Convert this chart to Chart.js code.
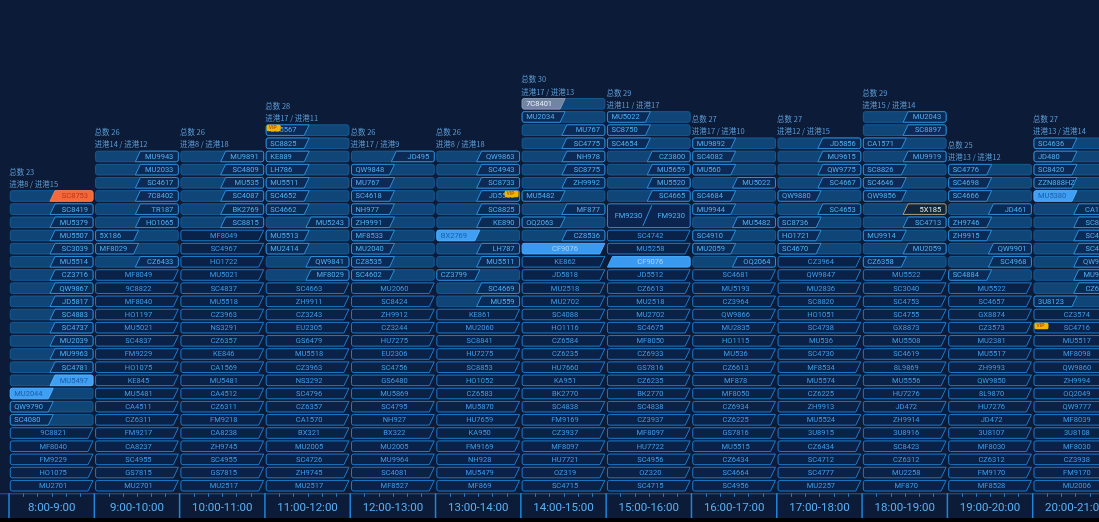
<!DOCTYPE html>
<html><head><meta charset="utf-8">
<script src="https://cdn.jsdelivr.net/npm/chart.js@4.4.1/dist/chart.umd.min.js"></script>
<style>
html,body{margin:0;padding:0;background:#000;overflow:hidden;width:1099px;height:522px;}
#wrap{position:absolute;left:0;top:0;width:1120px;height:518px;background:#0c1b37;}
canvas{display:block;}
</style></head><body>
<div id="wrap"><canvas id="c" width="1120" height="518"></canvas></div>
<script>
// ---- data ----
const categories = ['8:00-9:00','9:00-10:00','10:00-11:00','11:00-12:00','12:00-13:00','13:00-14:00','14:00-15:00','15:00-16:00','16:00-17:00','17:00-18:00','18:00-19:00','19:00-20:00','20:00-21:00'];
const totals = [23,26,26,28,26,26,30,29,27,27,29,25,27];
const inCountA = [8,14,8,17,17,8,17,11,17,12,15,13,13];
const inCountB = [15,12,18,11,9,18,13,17,10,15,14,12,14];
// each slot listed top -> bottom; prefix: R right tag, L left tag, D departure box, F highlighted box, W double box
// modifiers: o orange, b bright, g grey, v VIP, s selected, l left slant
const slot0800 = ['Ro|SC8753','R|SC8419','R|MU5379','R|MU5507','R|SC3039','R|MU5514','R|CZ3716','R|QW9867','R|JD5817','R|SC4883','R|SC4737','R|MU2039','R|MU9963','R|SC4781','Rb|MU5497','Lb|MU2044','L|QW9790','L|SC4080','D|9C8821','D|MF8040','D|FM9229','D|HO1075','D|MU2701'];
const slot0900 = ['R|MU9943','R|MU2033','R|SC4617','R|7C8402','R|TR187','R|HO1065','L|5X186','L|MF8029','R|CZ6433','D|MF8049','D|9C8822','D|MF8040','D|HO1197','D|MU5021','D|SC4837','D|FM9229','D|HO1075','D|KE845','D|MU5481','D|CA4511','D|CZ6311','D|FM9217','D|CA8237','D|SC4955','D|GS7815','D|MU2701'];
const slot1000 = ['R|MU9891','R|SC4809','R|MU535','R|SC4087','R|BK2769','R|SC8815','D|MF8049','D|SC4967','D|HO1722','D|MU5021','D|SC4837','D|MU5518','D|CZ3963','D|NS3291','D|CZ6357','D|KE846','D|CA1569','D|MU5481','D|CA4512','D|CZ6311','D|FM9218','D|CA8238','D|ZH9745','D|SC4955','D|GS7815','D|MU2517'];
const slot1100 = ['Lv|SC5567','L|SC8825','L|KE889','L|LH786','L|MU5511','L|SC4652','L|SC4662','R|MU5243','L|MU5513','L|MU2414','R|QW9841','R|MF8029','D|SC4663','D|ZH9911','D|CZ3243','D|EU2305','D|GS6479','D|MU5518','D|CZ3963','D|NS3292','D|SC4796','D|CZ6357','D|CA1570','D|BX321','D|MU2005','D|SC4726','D|ZH9745','D|MU2517'];
const slot1200 = ['R|JD495','L|QW9848','L|MU767','L|SC4618','L|NH977','L|ZH9991','L|MF8533','L|MU2040','L|CZ8535','L|SC4602','D|MU2060','D|SC8424','D|ZH9912','D|CZ3244','D|HU7275','D|EU2306','D|SC4756','D|GS6480','D|MU5869','D|SC4795','D|NH927','D|BX322','D|MU2005','D|MU9964','D|SC4081','D|MF8527'];
const slot1300 = ['R|QW9863','R|SC4943','R|SC8733','Rv|JD5565','R|SC8825','R|KE890','Lb|BX2769','R|LH787','R|MU5511','L|CZ3799','R|SC4669','R|MU559','D|KE861','D|MU2060','D|SC8841','D|HU7275','D|SC8853','D|HO1052','D|CZ6583','D|MU5870','D|HU7659','D|KA950','D|FM9169','D|NH928','D|MU5479','D|MF869'];
const slot1400 = ['Lg|7C8401','L|MU2034','R|MU767','R|SC4775','R|NH978','R|SC8775','R|ZH9992','L|MU5482','R|MF877','L|OQ2063','R|CZ8536','F|CF9076','D|KE862','D|JD5818','D|MU2518','D|MU2702','D|SC4088','D|HO1116','D|CZ6584','D|CZ6235','D|HU7660','D|KA951','D|BK2770','D|SC4838','D|FM9169','D|CZ3937','D|MF8097','D|HU7721','D|OZ319','D|SC4715'];
const slot1500 = ['L|MU5022','L|SC8750','L|SC4654','R|CZ3800','R|MU5659','R|MU5520','R|SC4665','W|FM9230/FM9230','D|SC4742','D|MU5258','Fl|CF9076','D|JD5512','D|CZ6613','D|MU2518','D|MU2702','D|SC4675','D|MF8050','D|CZ6933','D|GS7816','D|CZ6235','D|BK2770','D|SC4838','D|CZ3937','D|MF8097','D|HU7722','D|SC4956','D|OZ320','D|SC4715'];
const slot1600 = ['L|MU9892','L|SC4082','L|MU560','R|MU5022','L|SC4684','L|MU9944','R|MU5482','L|SC4910','L|MU2059','R|OQ2064','D|SC4681','D|MU5193','D|CZ3964','D|QW9866','D|MU2835','D|HO1115','D|MU536','D|CZ6613','D|MF878','D|MF8050','D|CZ6934','D|CZ6225','D|GS7816','D|MU5515','D|CZ6434','D|SC4664','D|SC4956'];
const slot1700 = ['R|JD5856','R|MU9615','R|QW9775','R|SC4667','L|QW9880','R|SC4653','L|SC8736','L|HO1721','L|SC4670','D|CZ3964','D|QW9847','D|MU2836','D|SC8820','D|HO1051','D|SC4738','D|MU536','D|SC4730','D|MF8534','D|MU5574','D|CZ6225','D|ZH9913','D|MU5524','D|3U8915','D|CZ6434','D|SC4712','D|SC4777','D|MU2257'];
const slot1800 = ['R|MU2043','R|SC8897','L|CA1571','R|MU9919','L|SC8826','L|SC4646','L|QW9856','Rs|5X185','R|SC4713','L|MU9914','R|MU2059','L|CZ6358','D|MU5522','D|SC3040','D|SC4753','D|SC4755','D|GX8873','D|MU5508','D|SC4619','D|8L9869','D|MU5556','D|HU7276','D|JD472','D|ZH9914','D|3U8916','D|SC8423','D|CZ6312','D|MU2258','D|MF870'];
const slot1900 = ['L|SC4776','L|SC4698','L|SC4666','R|JD461','L|ZH9746','L|ZH9915','R|QW9901','R|SC4968','L|SC4884','D|MU5522','D|SC4657','D|GX8874','D|CZ3573','D|MU2381','D|MU5517','D|ZH9993','D|QW9850','D|8L9870','D|HU7276','D|JD472','D|3U8107','D|MF8030','D|CZ6312','D|FM9170','D|MF8528'];
const slot2000 = ['L|SC4636','L|JD480','L|SC8420','L|ZZN888HZ','Lb|MU5380','R|CA1572','R|SC8898','R|SC4714','R|SC4647','R|QW9857','R|MU9920','R|CZ6359','L|3U8123','D|CZ3574','Dv|SC4716','D|MU5517','D|MF8098','D|QW9860','D|ZH9994','D|OQ2049','D|QW9777','D|MF8039','D|3U8108','D|MF8030','D|CZ3938','D|FM9170','D|MU2006'];

const slots = [slot0800,slot0900,slot1000,slot1100,slot1200,slot1300,slot1400,slot1500,slot1600,slot1700,slot1800,slot1900,slot2000];

// ---- build ----
const parsed = slots.map(s => s.map(str => { const p = str.split('|'); return {t:p[0], code:p[1]}; }).reverse());
const maxN = Math.max(...parsed.map(p => p.length));
const datasets = [];
for (let d = 0; d < maxN; d++) {
  datasets.push({
    data: parsed.map(p => p[d] ? (p[d].t === 'W' ? 2 : 1) : null),
    backgroundColor: 'rgba(0,0,0,0)', borderWidth: 0, stack: 's',
    barPercentage: 0.97, categoryPercentage: 1
  });
}

const C = {
  dFill:'#0a2148', dStroke:'#1d7bcc', rowFill:'#0f4677', rowStroke:'#175a94',
  tagFill:'#0b2a55', tagStroke:'#2b8fdb', tagText:'#4fb0f2', dText:'#3d9de8', head:'#5d9cd6'
};
const CODE_FONT = '7.5px Roboto, "Noto Sans", sans-serif';

function rr(ctx,l,t,r,b,rad){
  ctx.beginPath();
  ctx.moveTo(l+rad,t); ctx.lineTo(r-rad,t); ctx.quadraticCurveTo(r,t,r,t+rad);
  ctx.lineTo(r,b-rad); ctx.quadraticCurveTo(r,b,r-rad,b); ctx.lineTo(l+rad,b);
  ctx.quadraticCurveTo(l,b,l,b-rad); ctx.lineTo(l,t+rad); ctx.quadraticCurveTo(l,t,l+rad,t);
  ctx.closePath();
}
function dShape(ctx,l,t,r,b,slantRight){
  const s = 5, rad = 2;
  ctx.beginPath();
  if (slantRight) {
    ctx.moveTo(l+rad,t); ctx.lineTo(r,t); ctx.lineTo(r-s,b); ctx.lineTo(l+rad,b);
    ctx.quadraticCurveTo(l,b,l,b-rad); ctx.lineTo(l,t+rad); ctx.quadraticCurveTo(l,t,l+rad,t);
  } else {
    ctx.moveTo(l+s,t); ctx.lineTo(r-rad,t); ctx.quadraticCurveTo(r,t,r,t+rad);
    ctx.lineTo(r,b-rad); ctx.quadraticCurveTo(r,b,r-rad,b); ctx.lineTo(l,b);
  }
  ctx.closePath();
}
function tagR(ctx,l,t,r,b){
  const rad = 2;
  ctx.beginPath();
  ctx.moveTo(r-38,t); ctx.lineTo(r-rad,t); ctx.quadraticCurveTo(r,t,r,t+rad);
  ctx.lineTo(r,b-rad); ctx.quadraticCurveTo(r,b,r-rad,b); ctx.lineTo(r-43,b);
  ctx.closePath();
}
function tagL(ctx,l,t,r,b){
  const rad = 2;
  ctx.beginPath();
  ctx.moveTo(l+rad,t); ctx.lineTo(l+43,t); ctx.lineTo(l+38,b); ctx.lineTo(l+rad,b);
  ctx.quadraticCurveTo(l,b,l,b-rad); ctx.lineTo(l,t+rad); ctx.quadraticCurveTo(l,t,l+rad,t);
  ctx.closePath();
}
function txt(ctx,s,x,y,align,color){
  ctx.font = CODE_FONT; ctx.textAlign = align; ctx.textBaseline = 'middle';
  ctx.fillStyle = color; ctx.fillText(s,x,y+0.5);
}
function vip(ctx,x,y){
  rr(ctx,x,y,x+14,y+6.5,1.5);
  ctx.fillStyle = '#f2b400'; ctx.fill();
  ctx.font = 'bold 5px Roboto, sans-serif'; ctx.textAlign = 'left'; ctx.textBaseline = 'middle';
  ctx.fillStyle = '#b05a00'; ctx.fillText('VIP', x+2, y+3.4);
}
const TAG = {
  '': ['#0b2a55','#2b8fdb','#4fb0f2'],
  'v': ['#0b2a55','#2b8fdb','#4fb0f2'],
  'o': ['#f4683a','#ff7d4e','#b8391a'],
  'b': ['#3f9ff3','#55b0ff','#1d5ea6'],
  'g': ['#7185a3','#8698b4','#e6edf7'],
  's': ['#13243d','#a99c78','#e8e6df']
};
function drawEntry(ctx,e,l,r,t,b){
  const cy = (t+b)/2;
  const kind = e.t[0], mod = e.t.slice(1);
  ctx.lineWidth = 1;
  if (kind === 'D' || kind === 'F') {
    const bright = kind === 'F';
    dShape(ctx,l,t,r,b,mod !== 'l');
    ctx.fillStyle = bright ? '#3a9af0' : C.dFill; ctx.fill();
    ctx.strokeStyle = bright ? '#4aa8f8' : C.dStroke; ctx.stroke();
    txt(ctx,e.code,(l+r)/2+1.5,cy,'center',bright ? '#a6d5ff' : C.dText);
    if (mod === 'v') vip(ctx,l+0.5,t+0.3);
  } else if (kind === 'W') {
    const parts = e.code.split('/');
    rr(ctx,l,t,r,b,2);
    ctx.fillStyle = '#0b2550'; ctx.fill();
    ctx.strokeStyle = C.tagStroke; ctx.stroke();
    const cx = (l+r)/2;
    ctx.beginPath(); ctx.moveTo(cx-6,b-1.5); ctx.lineTo(cx+3,t+1.5);
    ctx.strokeStyle = C.tagStroke; ctx.stroke();
    txt(ctx,parts[0],l+21,cy,'center',C.tagText);
    txt(ctx,parts[1],r-19,cy,'center',C.tagText);
  } else {
    rr(ctx,l,t,r,b,2);
    ctx.fillStyle = C.rowFill; ctx.fill();
    ctx.strokeStyle = C.rowStroke; ctx.stroke();
    const col = TAG[mod] || TAG[''];
    if (kind === 'R') tagR(ctx,l,t,r,b); else tagL(ctx,l,t,r,b);
    ctx.fillStyle = col[0]; ctx.fill();
    ctx.strokeStyle = col[1]; ctx.stroke();
    if (kind === 'R') {
      txt(ctx,e.code,r-5,cy,'right',col[2]);
      if (mod === 'v') vip(ctx,r-15,t);
    } else {
      txt(ctx,e.code,l+4,cy,'left',col[2]);
      if (mod === 'v') vip(ctx,l+0.5,t);
    }
  }
}

const decor = {
  id: 'decor',
  afterDatasetsDraw(chart) {
    const ctx = chart.ctx, ys = chart.scales.y;
    ctx.save();
    parsed.forEach((list, k) => {
      let sum = 0, left = 0;
      list.forEach((e, d) => {
        const el = chart.getDatasetMeta(d).data[k];
        if (!el) return;
        const l = el.x - el.width/2, r = el.x + el.width/2;
        left = l;
        drawEntry(ctx, e, l, r, el.y + 1.3, el.base - 1.3);
        sum += (e.t === 'W' ? 2 : 1);
      });
      const topPx = ys.getPixelForValue(sum);
      ctx.fillStyle = C.head; ctx.textAlign = 'left'; ctx.textBaseline = 'middle';
      ctx.font = '7.5px "Noto Sans CJK SC", sans-serif';
      ctx.fillText('总数 ' + totals[k], left - 1, topPx - 17.7);
      ctx.fillText('进港' + inCountA[k] + ' / 进港' + inCountB[k], left - 1, topPx - 5.4);
    });
    ctx.restore();
  },
  afterDraw(chart) {
    const ctx = chart.ctx, xs = chart.scales.x;
    const n = categories.length;
    const slot = (xs.right - xs.left) / n;
    const y0 = chart.chartArea.bottom + 1;
    ctx.save();
    ctx.strokeStyle = '#1a5c9a'; ctx.lineWidth = 1;
    ctx.beginPath(); ctx.moveTo(0, y0 + 0.5); ctx.lineTo(chart.width, y0 + 0.5); ctx.stroke();
    ctx.strokeStyle = '#2a78c0';
    for (let k = 0; k < n; k++) {
      const sx = xs.getPixelForValue(k) - slot/2;
      for (let j = 1; j < 6; j++) {
        const tx = Math.round(sx + j*slot/6) + 0.5;
        ctx.beginPath(); ctx.moveTo(tx, y0); ctx.lineTo(tx, y0 + 3.5); ctx.stroke();
      }
    }
    ctx.strokeStyle = '#1f86dc'; ctx.lineWidth = 1.5;
    for (let k = 0; k <= n; k++) {
      const sx = xs.getPixelForValue(Math.min(k, n-1)) + (k === n ? slot/2 : -slot/2);
      ctx.beginPath(); ctx.moveTo(sx, y0); ctx.lineTo(sx, chart.height); ctx.stroke();
    }
    ctx.restore();
  }
};

new Chart(document.getElementById('c'), {
  type: 'bar',
  data: { labels: categories, datasets },
  options: {
    responsive: false, animation: false,
    layout: { padding: { left: 9, right: 2, top: 0, bottom: 0 } },
    plugins: { legend: { display: false }, tooltip: { enabled: false } },
    scales: {
      x: {
        stacked: true, offset: true,
        grid: { display: false, drawTicks: false }, border: { display: false },
        ticks: { color: '#5aaef3', padding: 9, maxRotation: 0, autoSkip: false,
          font: { family: "Roboto, sans-serif", size: 11.5 } },
        afterFit(scale) { scale.height = 25.7; }
      },
      y: { stacked: true, min: 0, max: 37.38, display: false }
    }
  },
  plugins: [decor]
});
</script>
</body></html>
